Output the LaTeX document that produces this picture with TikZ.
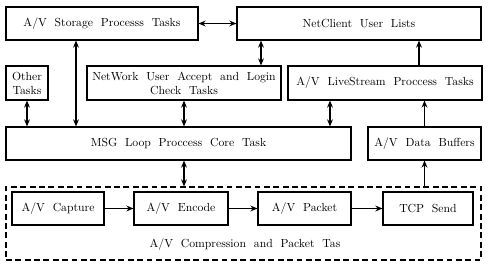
\documentclass[tikz,border=0pt]{standalone}
\usepackage{tikz}
\usetikzlibrary{positioning, arrows.meta}
\tikzset{
  box/.style={rectangle, draw=black, line width=1pt, align=center,
              minimum height=0.99cm, inner sep=1pt, font=\normalsize},
  grpbox/.style={rectangle, draw=black, line width=1pt, dashed,
                 dash pattern=on 5pt off 3pt},
  arr/.style={-{Stealth[length=6pt,width=5pt]}, line width=1pt},
  darr/.style={{Stealth[length=6pt,width=5pt]}-{Stealth[length=6pt,width=5pt]}, line width=1pt},
}
\begin{document}
\begin{tikzpicture}
    \useasboundingbox (0,0) rectangle (14.73,-8.01);
    % upper task boxes
    \node[box, minimum width=5.76cm] (stor) at (3.06,-0.705)
          {A/V\ \ Storage\ \ Processs\ \ Tasks};
    \node[box, minimum width=7.32cm] (ncl) at (10.77,-0.705)
          {NetClient\ \ User\ \ Lists};
    \node[box, minimum width=1.26cm, minimum height=1.02cm] (other) at (0.81,-2.49)
          {Other\\Tasks};
    \node[box, minimum width=5.82cm, minimum height=1.02cm] (netw) at (5.52,-2.49)
          {NetWork\ \ User\ \ Accept\ \ and\ \ Login\\Check\ \ Tasks};
    \node[box, minimum width=5.82cm, minimum height=1.02cm] (live) at (11.55,-2.49)
          {A/V\ \ LiveStream\ \ Proccess\ \ Tasks};
    \node[box, minimum width=10.35cm] (msg) at (5.355,-4.305)
          {MSG\ \ Loop\ \ Proccess\ \ Core\ \ Task};
    \node[box, minimum width=3.39cm] (buf) at (12.735,-4.305)
          {A/V\ \ Data\ \ Buffers};
    % compression and packet group
    \node[grpbox, minimum width=14.25cm, minimum height=2.19cm] (grp) at (7.305,-6.705) {};
    \node[box, minimum width=2.76cm] (cap) at (1.74,-6.255) {A/V\ \ Capture};
    \node[box, minimum width=2.82cm] (enc) at (5.43,-6.255) {A/V\ \ Encode};
    \node[box, minimum width=2.79cm] (pkt) at (9.135,-6.255) {A/V\ \ Packet};
    \node[box, minimum width=2.70cm] (tcp) at (12.84,-6.255) {TCP\ \ Send};
    \node (grplbl) at (7.35,-7.35) {A/V\ \ Compression\ \ and\ \ Packet\ \ Tas};
    % connectors
    \draw[darr] (stor.east)--(ncl.west);
    \draw[darr] ([xshift=2.31cm]netw.north)--([xshift=2.31cm]netw.north |- ncl.south);
    \draw[arr] ([xshift=1.02cm]live.north)--([xshift=1.02cm]live.north |- ncl.south);
    \draw[darr] ([xshift=-0.78cm]stor.south)--([xshift=-0.78cm]stor.south |- msg.north);
    \draw[darr] (other.south)--(other.south |- msg.north);
    \draw[darr] (netw.south)--(netw.south |- msg.north);
    \draw[darr] ([xshift=-1.65cm]live.south)--([xshift=-1.65cm]live.south |- msg.north);
    \draw[arr] (buf.north)--(buf.north |- live.south);
    \draw[darr] (netw.south |- msg.south)--(netw.south |- grp.north);
    \draw[arr] (buf.south |- grp.north)--(buf.south);
    \draw[arr] (cap)--(enc);
    \draw[arr] (enc)--(pkt);
    \draw[arr] (pkt)--(tcp);
\end{tikzpicture}
\end{document}
